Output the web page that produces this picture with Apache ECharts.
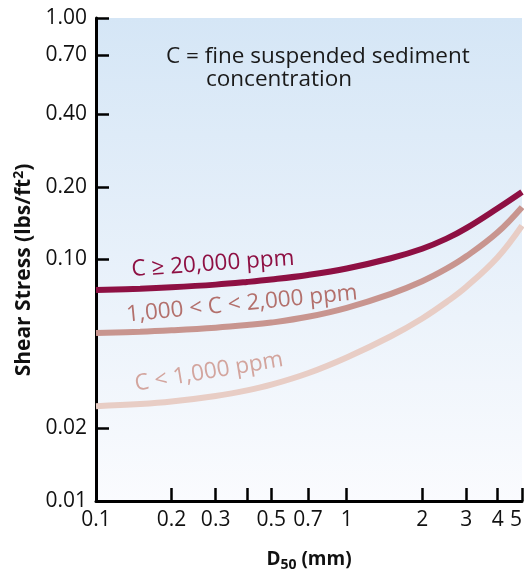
<!DOCTYPE html>
<html>
<head>
<meta charset="utf-8">
<script src="https://cdn.jsdelivr.net/npm/echarts@6/dist/echarts.min.js"></script>
<style>
html, body { margin: 0; padding: 0; background: #fff; }
#chart { width: 524px; height: 571px; }
</style>
</head>
<body>
<div id="chart"></div>
<script>
// grain size D50 (mm)
var d50 = [0.1, 0.15, 0.2, 0.3, 0.4, 0.5, 0.7, 1, 1.5, 2, 2.5, 3, 4, 5];
// shear stress (lbs/ft2) for each concentration class
var highConc = [0.0748, 0.0757, 0.0767, 0.0787, 0.0807, 0.0826, 0.0863, 0.0918, 0.1012, 0.1108, 0.1220, 0.1349, 0.1631, 0.1905];
var midConc  = [0.0496, 0.0502, 0.0509, 0.0522, 0.0535, 0.0548, 0.0579, 0.0631, 0.0721, 0.0813, 0.0916, 0.1031, 0.1297, 0.1648];
var lowConc  = [0.0247, 0.0252, 0.0258, 0.0272, 0.0287, 0.0303, 0.0338, 0.0393, 0.0481, 0.0570, 0.0667, 0.0771, 0.1022, 0.1381];

var xTicks = [0.1, 0.2, 0.3, 0.4, 0.5, 0.7, 1, 2, 3, 4, 5];
var xLabels = [0.1, 0.2, 0.3, 0.5, 0.7, 1, 2, 3, 4, 5];
var yTicks = [0.01, 0.02, 0.1, 0.2, 0.4, 0.7, 1];

var seriesNames = ['C ≥ 20,000 ppm', '1,000 < C < 2,000 ppm', 'C < 1,000 ppm'];
var lineColors = ['#8e1043', '#c8958f', '#e8cdc5'];
var labelColors = ['#8e1043', '#b3706c', '#d3a59e'];

var FONT = '"Open Sans", sans-serif';

function pairs(ys) {
	var out = [];
	for (var i = 0; i < d50.length; i++) out.push([d50[i], ys[i]]);
	return out;
}

var myChart = echarts.init(document.getElementById('chart'));

var axisLine = { show: true, lineStyle: { color: '#000', width: 3 } };
var axisTick = { show: true, inside: true, length: 13, lineStyle: { color: '#000', width: 2.5 } };

var option = {
	animation: false,
	textStyle: { fontFamily: FONT },
	grid: {
		left: 96, right: 2, top: 18, bottom: 70,
		outerBoundsMode: 'none',
		show: true,
		borderWidth: 0,
		backgroundColor: {
			type: 'linear', x: 0, y: 0, x2: 0, y2: 1,
			colorStops: [
				{ offset: 0, color: '#d5e6f6' },
				{ offset: 1, color: '#fafbfe' }
			]
		}
	},
	xAxis: {
		type: 'log',
		logBase: 10,
		min: 0.1,
		max: 5,
		axisLine: axisLine,
		axisTick: Object.assign({ customValues: xTicks }, axisTick),
		axisLabel: {
			customValues: xLabels,
			alignMaxLabel: 'right',
			color: '#111', fontSize: 21, fontFamily: FONT, margin: 9,
			formatter: function (v) { return String(+v.toFixed(2)); }
		},
		splitLine: { show: false },
		name: '{b|D}{s|50}{b| (mm)}',
		nameLocation: 'middle',
		nameGap: 47,
		nameTextStyle: {
			rich: {
				b: { fontSize: 19, fontWeight: 'bold', color: '#111', fontFamily: FONT },
				s: { fontSize: 14, fontWeight: 'bold', color: '#111', fontFamily: FONT, verticalAlign: 'bottom', padding: [10, 0, 0, 0] }
			}
		}
	},
	yAxis: {
		type: 'log',
		logBase: 10,
		min: 0.01,
		max: 1,
		axisLine: axisLine,
		axisTick: Object.assign({ customValues: yTicks }, axisTick),
		axisLabel: {
			customValues: yTicks,
			color: '#111', fontSize: 21, fontFamily: FONT, margin: 9,
			formatter: function (v) { return v.toFixed(2); }
		},
		splitLine: { show: false }
	},
	graphic: [
		{
			type: 'text', x: 24, y: 270, rotation: Math.PI / 2,
			style: {
				text: '{b|Shear Stress (lbs/ft}{s|2}{b|)}',
				align: 'center', verticalAlign: 'middle',
				rich: {
					b: { fontSize: 21, fontWeight: 'bold', fill: '#111', fontFamily: FONT },
					s: { fontSize: 14, fontWeight: 'bold', fill: '#111', fontFamily: FONT, verticalAlign: 'top', padding: [0, 0, 10, 0] }
				}
			}
		},
		{
			type: 'text', x: 166, y: 57,
			style: { text: 'C = fine suspended sediment', fontSize: 22.5, fill: '#1a1a1a', fontFamily: FONT, verticalAlign: 'middle' }
		},
		{
			type: 'text', x: 206, y: 80,
			style: { text: 'concentration', fontSize: 22.5, fill: '#1a1a1a', fontFamily: FONT, verticalAlign: 'middle' }
		},
		{
			type: 'text', x: 213, y: 264, rotation: 4 * Math.PI / 180,
			style: { text: seriesNames[0], fontSize: 22.5, fill: labelColors[0], fontFamily: FONT, align: 'center', verticalAlign: 'middle' }
		},
		{
			type: 'text', x: 242, y: 304, rotation: 5.5 * Math.PI / 180,
			style: { text: seriesNames[1], fontSize: 22.5, fill: labelColors[1], fontFamily: FONT, align: 'center', verticalAlign: 'middle' }
		},
		{
			type: 'text', x: 209, y: 372, rotation: 9.5 * Math.PI / 180,
			style: { text: seriesNames[2], fontSize: 22.5, fill: labelColors[2], fontFamily: FONT, align: 'center', verticalAlign: 'middle' }
		}
	],
	series: [
		{ name: seriesNames[2], type: 'line', smooth: 0.4, symbol: 'none', data: pairs(lowConc), lineStyle: { color: lineColors[2], width: 6 } },
		{ name: seriesNames[1], type: 'line', smooth: 0.4, symbol: 'none', data: pairs(midConc), lineStyle: { color: lineColors[1], width: 6 } },
		{ name: seriesNames[0], type: 'line', smooth: 0.4, symbol: 'none', data: pairs(highConc), lineStyle: { color: lineColors[0], width: 6 } }
	]
};

myChart.setOption(option);
</script>
</body>
</html>
